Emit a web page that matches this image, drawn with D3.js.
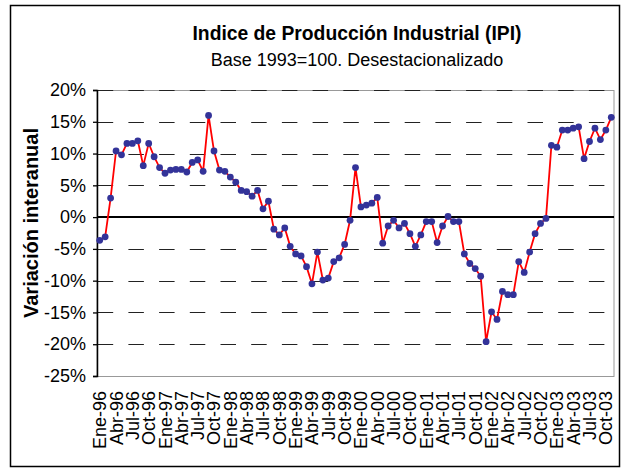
<!DOCTYPE html>
<html>
<head>
<meta charset="utf-8">
<script src="https://cdn.jsdelivr.net/npm/d3@7"></script>
<style>
  html, body { margin: 0; padding: 0; background: #fff; }
  svg { display: block; }
  text { font-family: "Liberation Sans", Arial, sans-serif; }
</style>
</head>
<body>
<svg id="chart" width="621" height="469"></svg>
<script>
const categories = [
  "Ene-96","Feb-96","Mar-96","Abr-96","May-96","Jun-96","Jul-96","Ago-96","Sep-96","Oct-96","Nov-96","Dic-96",
  "Ene-97","Feb-97","Mar-97","Abr-97","May-97","Jun-97","Jul-97","Ago-97","Sep-97","Oct-97","Nov-97","Dic-97",
  "Ene-98","Feb-98","Mar-98","Abr-98","May-98","Jun-98","Jul-98","Ago-98","Sep-98","Oct-98","Nov-98","Dic-98",
  "Ene-99","Feb-99","Mar-99","Abr-99","May-99","Jun-99","Jul-99","Ago-99","Sep-99","Oct-99","Nov-99","Dic-99",
  "Ene-00","Feb-00","Mar-00","Abr-00","May-00","Jun-00","Jul-00","Ago-00","Sep-00","Oct-00","Nov-00","Dic-00",
  "Ene-01","Feb-01","Mar-01","Abr-01","May-01","Jun-01","Jul-01","Ago-01","Sep-01","Oct-01","Nov-01","Dic-01",
  "Ene-02","Feb-02","Mar-02","Abr-02","May-02","Jun-02","Jul-02","Ago-02","Sep-02","Oct-02","Nov-02","Dic-02",
  "Ene-03","Feb-03","Mar-03","Abr-03","May-03","Jun-03","Jul-03","Ago-03","Sep-03","Oct-03","Nov-03"
];
const tickLabels = [
  "Ene-96","Abr-96","Jul-96","Oct-96","Ene-97","Abr-97","Jul-97","Oct-97",
  "Ene-98","Abr-98","Jul-98","Oct-98","Ene-99","Abr-99","Jul-99","Oct-99",
  "Ene-00","Abr-00","Jul-00","Oct-00","Ene-01","Abr-01","Jul-01","Oct-01",
  "Ene-02","Abr-02","Jul-02","Oct-02","Ene-03","Abr-03","Jul-03","Oct-03"
];
const ipiValues = [
  -3.65, -3.1, 3.0, 10.4, 9.8, 11.6, 11.6, 12.0, 8.1, 11.6, 9.5, 7.8,
  6.9, 7.4, 7.5, 7.5, 7.1, 8.6, 9.0, 7.2, 16.0, 10.4, 7.4, 7.2,
  6.3, 5.5, 4.2, 4.0, 3.3, 4.2, 1.3, 2.5, -1.9, -2.8, -1.7, -4.6,
  -5.8, -6.1, -7.8, -10.5, -5.5, -9.9, -9.6, -7.0, -6.4, -4.3, -0.5, 7.8,
  1.6, 1.9, 2.2, 3.1, -4.1, -1.4, -0.5, -1.7, -1.0, -2.6, -4.6, -2.8,
  -0.7, -0.7, -4.0, -1.4, 0.1, -0.7, -0.7, -5.8, -7.3, -8.1, -9.3, -19.6,
  -14.9, -16.1, -11.7, -12.2, -12.2, -7.0, -8.7, -5.5, -2.6, -1.0, -0.2, 11.3,
  11.0, 13.7, 13.7, 14.0, 14.2, 9.2, 11.9, 14.0, 12.2, 13.7, 15.7
];
const yTicks = [20, 15, 10, 5, 0, -5, -10, -15, -20, -25];
const titleText = "Indice de Producción Industrial (IPI)";
const subtitleText = "Base 1993=100. Desestacionalizado";
const yTitleText = "Variación interanual";

const svg = d3.select("#chart");
const L = 97, R = 614, T = 90, B = 376;

const x = d3.scaleBand().domain(categories).range([L, R]).padding(0);
const y = d3.scaleLinear().domain([-25, 20]).range([B, T]);
const cx = d => x(d) + x.bandwidth() / 2;

// outer border
svg.append("rect").attr("x", 10.5).attr("y", 5.5).attr("width", 609).attr("height", 461)
  .attr("fill", "#fff").attr("stroke", "#000").attr("stroke-width", 1.5);

// titles
svg.append("text").attr("x", 357).attr("y", 39.5).attr("text-anchor", "middle")
  .attr("font-size", 20).attr("font-weight", "bold")
  .attr("textLength", 329).attr("lengthAdjust", "spacingAndGlyphs").text(titleText);
svg.append("text").attr("x", 357).attr("y", 65.5).attr("text-anchor", "middle")
  .attr("font-size", 18).text(subtitleText);

// plot border (gray)
svg.append("rect").attr("x", L).attr("y", T + 0.5).attr("width", R - L).attr("height", B - T)
  .attr("fill", "none").attr("stroke", "#999").attr("stroke-width", 1);

// gridlines
svg.append("g").selectAll("line").data(yTicks.filter(v => v !== 0 && v !== -25)).join("line")
  .attr("x1", L + 0.7).attr("x2", R)
  .attr("y1", d => Math.round(y(d)) + 0.5).attr("y2", d => Math.round(y(d)) + 0.5)
  .attr("stroke", "#222").attr("stroke-width", 1)
  .attr("stroke-dasharray", "15.5,15.2");

// y axis
const yAxis = svg.append("g").attr("transform", `translate(${L},0)`)
  .call(d3.axisLeft(y).tickValues(yTicks).tickSize(4).tickPadding(7).tickFormat(d => d + "%"));
yAxis.select(".domain").attr("stroke", "#000").attr("stroke-width", 1.5);
yAxis.selectAll(".tick line").attr("stroke", "#000").attr("stroke-width", 1.3);
yAxis.selectAll("text").attr("font-size", 18).attr("font-family", "Liberation Sans, Arial, sans-serif").attr("fill", "#000");

// zero line
svg.append("line").attr("x1", L).attr("x2", R).attr("y1", y(0)).attr("y2", y(0))
  .attr("stroke", "#000").attr("stroke-width", 2);

// x axis labels
const xAxis = svg.append("g").attr("transform", `translate(0,${B})`)
  .call(d3.axisBottom(x).tickValues(tickLabels).tickSize(0));
xAxis.select(".domain").remove();
xAxis.selectAll("text")
  .attr("font-size", 18).attr("font-family", "Liberation Sans, Arial, sans-serif").attr("fill", "#000")
  .attr("transform", "rotate(-90)")
  .attr("text-anchor", "end")
  .attr("x", -15).attr("y", 0).attr("dy", "0.36em");

// y axis title
svg.append("text")
  .attr("transform", "translate(38,223) rotate(-90)")
  .attr("text-anchor", "middle").attr("font-size", 20).attr("font-weight", "bold")
  .attr("textLength", 190).attr("lengthAdjust", "spacingAndGlyphs")
  .text(yTitleText);

// data
const data = categories.map((c, i) => ({ c, v: ipiValues[i] }));
svg.append("path").datum(data)
  .attr("fill", "none").attr("stroke", "#ff0000").attr("stroke-width", 1.8)
  .attr("d", d3.line().x(d => cx(d.c)).y(d => y(d.v)));
svg.append("g").selectAll("circle").data(data).join("circle")
  .attr("cx", d => cx(d.c)).attr("cy", d => y(d.v)).attr("r", 3.4)
  .attr("fill", "#333399");
</script>
</body>
</html>
